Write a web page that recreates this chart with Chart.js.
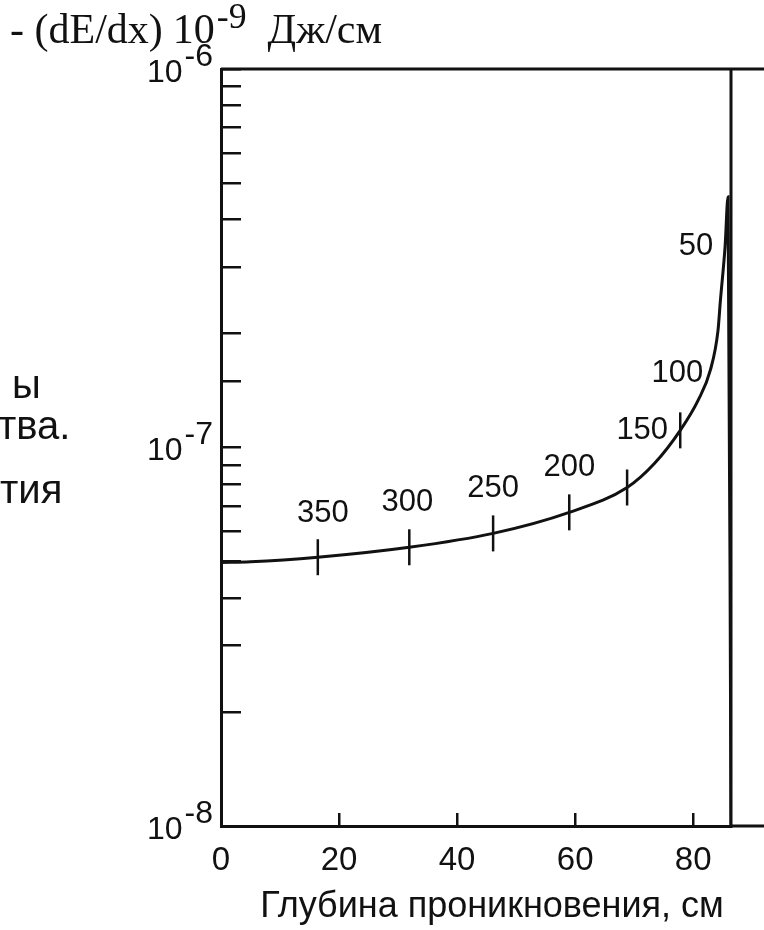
<!DOCTYPE html>
<html>
<head>
<meta charset="utf-8">
<script src="https://cdn.jsdelivr.net/npm/chart.js@4.4.1/dist/chart.umd.min.js"></script>
<style>
  html, body { margin: 0; padding: 0; background: #fff; }
  #wrap { position: relative; width: 764px; height: 930px; overflow: hidden; }
  #braggChart { position: absolute; left: 0; top: 0; }
  .txt { position: absolute; color: #111; white-space: nowrap; line-height: 1; }
  .sans { font-family: "Liberation Sans", Arial, sans-serif; }
  .serif { font-family: "Liberation Serif", "Times New Roman", serif; }
  sup { font-size: 0.85em; position: relative; top: -0.25em; vertical-align: top; margin-left: 2px; }
  .pow { margin-left: 10px; }
</style>
</head>
<body>
<div id="wrap">
  <canvas id="braggChart" width="764" height="930"></canvas>
  <div class="txt serif" id="yTitle" style="left:10px; top:8px; font-size:42px;">- (dE/dx)<span class="pow">10<sup>-9</sup></span>&nbsp;&nbsp;Дж/см</div>
  <div class="txt sans" style="left:12px; top:364px; font-size:40px;">ы</div>
  <div class="txt sans" style="left:-2px; top:405px; font-size:40px;">тва.</div>
  <div class="txt sans" style="left:0px; top:469px; font-size:40px;">тия</div>
  <div class="txt sans" id="xTitle" style="left:192px; width:600px; text-align:center; top:887px; font-size:36px;">Глубина проникновения, см</div>
</div>
<script>
// depth in cm, energy loss (same units as the axis)
const depth = [0, 5, 16.4, 31.9, 46.1, 59, 68.8, 73.5, 77.8, 80.8, 82.9, 84.2, 84.6, 85.4, 85.9, 86.4];
const loss = [4.97e-8, 4.99e-8, 5.13e-8, 5.45e-8, 5.93e-8, 6.74e-8, 7.84e-8, 9.1e-8, 1.11e-7, 1.33e-7, 1.6e-7, 2.04e-7, 2.44e-7, 3.4e-7, 4.6e-7, 1e-8];

// short marks across the curve
const markDepth = [16.4, 31.9, 46.1, 59, 68.8, 77.8];
const markLoss = [5.13e-8, 5.45e-8, 5.93e-8, 6.74e-8, 7.84e-8, 1.11e-7];

// energy labels (MeV) and the curve point each one sits beside
const energyLabels = ['350', '300', '250', '200', '150', '100', '50'];
const labelDepth = [16.4, 31.9, 46.1, 59, 77.8, 82.9, 85.4];
const labelLoss = [5.13e-8, 5.45e-8, 5.93e-8, 6.74e-8, 1.11e-7, 1.6e-7, 3.4e-7];
const labelShift = [[5, -44], [-2, -45], [0, -45], [0, -45], [-38, 0], [-33, 3], [-29, 0]];

const xTicks = [0, 20, 40, 60, 80];
const xMax = 86.4;
const yTickValues = [1e-8, 1e-7, 1e-6];
const yTickExp = ['-8', '-7', '-6'];

const ink = '#111';
const sansFont = '"Liberation Sans", Arial, sans-serif';

const framePlugin = {
    id: 'frame',
    afterDraw(chart) {
        const { ctx, chartArea } = chart;
        ctx.save();
        ctx.strokeStyle = ink;
        ctx.lineWidth = 3;
        ctx.beginPath();
        ctx.moveTo(chartArea.left, chartArea.top);
        ctx.lineTo(764, chartArea.top);
        ctx.moveTo(chartArea.right, chartArea.top);
        ctx.lineTo(chartArea.right, chartArea.bottom);
        ctx.moveTo(chartArea.right, chartArea.bottom);
        ctx.lineTo(764, chartArea.bottom);
        ctx.stroke();
        ctx.restore();
    }
};

const labelPlugin = {
    id: 'labels',
    afterDraw(chart) {
        const { ctx } = chart;
        const xs = chart.scales.x;
        const ys = chart.scales.y;
        ctx.save();
        ctx.fillStyle = ink;

        // y tick labels: 10 with exponent
        ctx.font = '32px ' + sansFont;
        ctx.textBaseline = 'middle';
        yTickValues.forEach((v, i) => {
            const py = ys.getPixelForValue(v);
            const expW = ctx.measureText(yTickExp[i]).width;
            ctx.textAlign = 'right';
            ctx.fillText(yTickExp[i], xs.left - 8, py - 12);
            ctx.fillText('10', xs.left - 10 - expW, py + 4);
        });

        // energy labels
        ctx.font = '31px ' + sansFont;
        ctx.textAlign = 'center';
        energyLabels.forEach((lab, i) => {
            const px = xs.getPixelForValue(labelDepth[i]) + labelShift[i][0];
            const py = ys.getPixelForValue(labelLoss[i]) + labelShift[i][1];
            ctx.fillText(lab, px, py);
        });
        ctx.restore();
    }
};

const ctx = document.getElementById('braggChart');

const chart = new Chart(ctx, {
    type: 'line',
    data: {
        datasets: [{
            data: depth.map((d, i) => ({ x: d, y: loss[i] })),
            borderColor: ink,
            borderWidth: 3,
            pointRadius: 0,
            cubicInterpolationMode: 'monotone',
            fill: false
        }, {
            data: markDepth.map((d, i) => ({ x: d, y: markLoss[i] })),
            showLine: false,
            pointStyle: 'line',
            rotation: 90,
            pointRadius: 18,
            borderColor: ink,
            borderWidth: 2.5
        }]
    },
    options: {
        responsive: false,
        animation: false,
        devicePixelRatio: 1,
        layout: { padding: { left: 0, right: 33, top: 69, bottom: 0 } },
        plugins: {
            legend: { display: false },
            tooltip: { enabled: false }
        },
        scales: {
            x: {
                type: 'linear',
                min: 0,
                max: xMax,
                afterFit: (scale) => { scale.height = 104; },
                afterBuildTicks: (scale) => { scale.ticks = xTicks.map(v => ({ value: v })); },
                ticks: {
                    color: ink,
                    font: { size: 33, family: sansFont },
                    padding: 28,
                    autoSkip: false,
                    maxRotation: 0
                },
                grid: {
                    drawOnChartArea: false,
                    tickLength: -13,
                    color: ink,
                    lineWidth: 2.5
                },
                border: { color: ink, width: 3 }
            },
            y: {
                type: 'logarithmic',
                min: 1e-8,
                max: 1e-6,
                afterFit: (scale) => { scale.width = 221; },
                ticks: { display: false, autoSkip: false },
                grid: {
                    drawOnChartArea: false,
                    tickLength: -20,
                    color: ink,
                    lineWidth: 2.5
                },
                border: { color: ink, width: 3 }
            }
        }
    },
    plugins: [framePlugin, labelPlugin]
});
</script>
</body>
</html>
